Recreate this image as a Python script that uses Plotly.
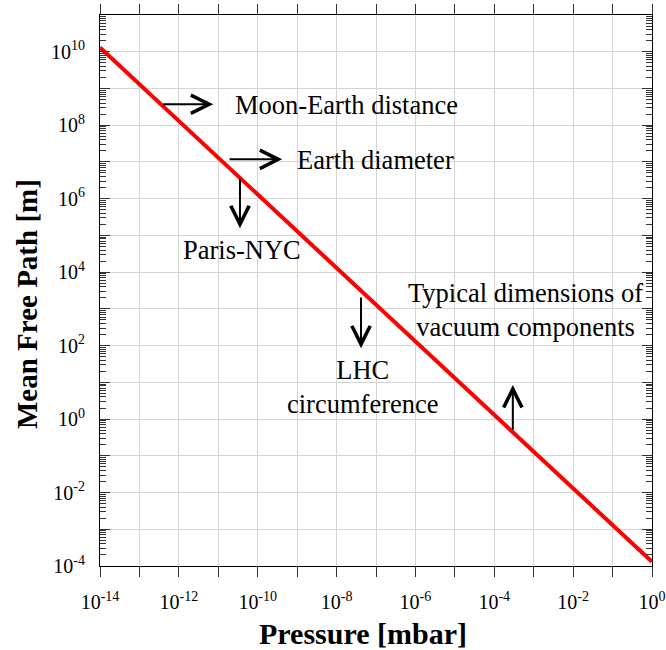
import plotly.graph_objects as go

# ---- data ----
pressure_mbar = [1e-14, 1e0]
mean_free_path_m = [1.3e10, 1.3e-4]

x_exponents = list(range(-14, 1))
y_exponents = list(range(-4, 12))
x_tickvals = [10.0 ** e for e in x_exponents]
y_tickvals = [10.0 ** e for e in y_exponents]
x_ticktext = [f"10<sup>{e}</sup>" if e % 2 == 0 else "" for e in x_exponents]
y_ticktext = [f"10<sup>{e}</sup>" if (e % 2 == 0 and e <= 10) else "" for e in y_exponents]
y_minor_vals = [k * 10.0 ** e for e in range(-4, 11) for k in range(2, 10)]

# annotation labels (log10 coordinates)
arrow_labels = ["Moon-Earth distance", "Earth diameter", "Paris-NYC", "LHC circumference",
                "Typical dimensions of vacuum components"]
arrow_tail_x = [-12.43, -10.75, -10.45, -7.38, -3.53]
arrow_tail_y = [8.57, 7.07, 6.585, 3.35, -0.33]
arrow_head_x = [-11.13, -9.38, -10.45, -7.38, -3.53]
arrow_head_y = [8.57, 7.07, 5.197, 1.93, 0.925]

text_strings = ["Moon-Earth distance", "Earth diameter", "Paris-NYC",
                "LHC<br>circumference", "Typical dimensions of<br>vacuum components"]
text_x = [-10.63, -9.055, -10.39, -7.33, -3.196]
text_y = [8.55, 7.04, 4.60, 0.86, 2.96]
text_anchor = ["left", "left", "center", "center", "center"]

FONT = "Liberation Serif, Times New Roman, serif"

fig = go.Figure()
fig.add_trace(go.Scatter(
    x=pressure_mbar, y=mean_free_path_m, mode="lines",
    line=dict(color="#ff0000", width=4), showlegend=False, hoverinfo="skip"))

annotations = []
for tx, ty, hx, hy in zip(arrow_tail_x, arrow_tail_y, arrow_head_x, arrow_head_y):
    annotations.append(dict(
        x=hx, y=hy, ax=tx, ay=ty, xref="x", yref="y", axref="x", ayref="y",
        text="", showarrow=True, arrowhead=5, arrowsize=1.8, arrowwidth=2,
        arrowcolor="black", standoff=0, startstandoff=0))
for s, x, y, a in zip(text_strings, text_x, text_y, text_anchor):
    annotations.append(dict(
        x=x, y=y, xref="x", yref="y", text=s, showarrow=False,
        xanchor=a, yanchor="middle", align="center",
        font=dict(family=FONT, size=26.5, color="black")))

annotations.append(dict(
    x=0.4764, y=-0.1216, xref="paper", yref="paper", text="<b>Pressure [mbar]</b>",
    showarrow=False, xanchor="center", yanchor="middle",
    font=dict(family=FONT, size=30, color="black")))
annotations.append(dict(
    x=-0.1322, y=0.4755, xref="paper", yref="paper", text="<b>Mean Free Path [m]</b>",
    showarrow=False, xanchor="center", yanchor="middle", textangle=-90,
    font=dict(family=FONT, size=29, color="black")))

fig.update_layout(
    width=666, height=650,
    margin=dict(l=100, r=14, t=15, b=84),
    paper_bgcolor="white", plot_bgcolor="white",
    font=dict(family=FONT, size=20, color="black"),
    annotations=annotations,
    showlegend=False,
)
fig.update_xaxes(
    type="log", range=[-14, 0], automargin=False,
    tickmode="array", tickvals=x_tickvals, ticktext=x_ticktext,
    ticks="outside", ticklen=10, tickwidth=1, tickcolor="#333333",
    showline=True, linecolor="black", linewidth=1, mirror="ticks",
    showgrid=True, gridcolor="#d4d4d4", gridwidth=1,
    zeroline=False, tickfont=dict(family=FONT, size=20, color="black"),
    tickangle=0, ticklabelstandoff=8,
)
fig.update_yaxes(
    type="log", range=[-4, 11], automargin=False,
    tickmode="array", tickvals=y_tickvals, ticktext=y_ticktext,
    ticks="inside", ticklen=10, tickwidth=1, tickcolor="#333333",
    showline=True, linecolor="black", linewidth=1, mirror="ticks",
    showgrid=True, gridcolor="#d4d4d4", gridwidth=1,
    zeroline=False, tickfont=dict(family=FONT, size=20, color="black"),
    ticklabelstandoff=10,
    minor=dict(tickmode="array", tickvals=y_minor_vals, ticks="inside", ticklen=6,
               tickwidth=1, tickcolor="#333333", showgrid=False),
)

fig.write_html("out.html")
